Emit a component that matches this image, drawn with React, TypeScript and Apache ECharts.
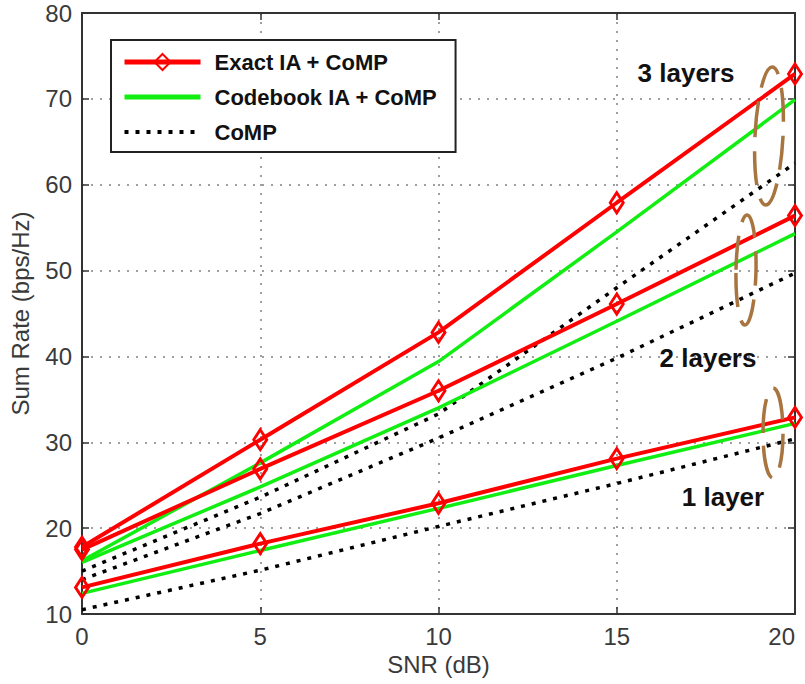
import React, { useEffect, useRef } from "react";
import * as echarts from "echarts";

// SNR (dB) categories on x
const snr = [0, 5, 10, 15, 20];
// Exact IA + CoMP
const exact3 = [17.8, 30.3, 42.8, 57.9, 72.9];
const exact2 = [17.5, 26.9, 36.0, 46.1, 56.4];
const exact1 = [13.1, 18.2, 22.9, 28.1, 32.9];
// Codebook IA + CoMP
const codebook3 = [16.2, 27.6, 39.4, 54.5, 69.9];
const codebook2 = [16.0, 24.8, 34.0, 44.1, 54.3];
const codebook1 = [12.4, 17.4, 22.3, 27.3, 32.2];
// CoMP
const comp3 = [15.0, 23.6, 33.3, 48.0, 62.5];
const comp2 = [14.0, 21.7, 30.5, 39.8, 49.7];
const comp1 = [10.5, 15.1, 20.2, 25.2, 30.4];

const legendNames = ["Exact IA + CoMP", "Codebook IA + CoMP", "CoMP"];
const annotations = ["3 layers", "2 layers", "1 layer"];

const FONT = "Liberation Sans, Arial, sans-serif";
const RED = "#ff0000";
const GREEN = "#11ee11";
const DOT = [4, 7];

export default function App() {
  const ref = useRef<HTMLDivElement>(null);
  useEffect(() => {
    if (!ref.current) return;
    const chart = echarts.init(ref.current, undefined, { renderer: "svg" });
    const pts = (ys: number[]) => snr.map((x, i) => [x, ys[i]]);
    const comp = (ys: number[]) => ({
      type: "line",
      name: legendNames[2],
      data: pts(ys),
      symbol: "none",
      lineStyle: { color: "#000", width: 3.5, type: DOT },
      itemStyle: { color: "#000" },
      z: 2,
    });
    const code = (ys: number[]) => ({
      type: "line",
      name: legendNames[1],
      data: pts(ys),
      symbol: "none",
      lineStyle: { color: GREEN, width: 3.5 },
      itemStyle: { color: GREEN },
      z: 3,
    });
    const exact = (ys: number[]) => ({
      type: "line",
      name: legendNames[0],
      data: pts(ys),
      symbol: "diamond",
      symbolSize: [13, 20],
      showSymbol: true,
      lineStyle: { color: RED, width: 4 },
      itemStyle: { color: "rgba(255,255,255,0)", borderColor: RED, borderWidth: 3 },
      z: 4,
    });
    const axisCommon = {
      axisLine: { show: true, onZero: false, lineStyle: { color: "#333", width: 2 } },
      axisTick: { show: true, inside: true, length: 7, lineStyle: { color: "#333", width: 1.5 } },
    };
    const labelStyle = { fontSize: 24, color: "#3a3a3a", fontFamily: FONT };
    const ell = (cx: number, cy: number, rx: number, ry: number, rot: number) => ({
      type: "ellipse",
      x: cx,
      y: cy,
      rotation: rot,
      shape: { cx: 0, cy: 0, rx, ry },
      style: { fill: "none", stroke: "#A8743F", lineWidth: 3.5, lineDash: [34, 14] },
      z: 10,
    });
    const txt = (s: string, x: number, y: number) => ({
      type: "text",
      x,
      y,
      style: {
        text: s,
        fill: "#111",
        font: `bold 26px ${FONT}`,
        align: "center",
        verticalAlign: "middle",
      },
      z: 10,
    });
    chart.setOption({
      animation: false,
      backgroundColor: "#fff",
      grid: { left: 82, right: 10, top: 13, bottom: 70, containLabel: false, outerBoundsMode: "none" },
      xAxis: [
        {
          type: "value",
          min: 0,
          max: 20,
          interval: 5,
          position: "bottom",
          ...axisCommon,
          axisLabel: { ...labelStyle, margin: 10, alignMaxLabel: "right" },
          splitLine: { show: true, lineStyle: { type: [2, 7], color: "#808080", width: 1.5 } },
          name: "SNR (dB)",
          nameLocation: "middle",
          nameGap: 38,
          nameTextStyle: labelStyle,
        },
        {
          type: "value",
          min: 0,
          max: 20,
          interval: 5,
          position: "top",
          ...axisCommon,
          axisLabel: { show: false },
          splitLine: { show: false },
        },
      ],
      yAxis: [
        {
          type: "value",
          min: 10,
          max: 80,
          interval: 10,
          position: "left",
          ...axisCommon,
          axisLabel: { ...labelStyle, margin: 10 },
          splitLine: { show: true, lineStyle: { type: [2, 7], color: "#808080", width: 1.5 } },
          name: "Sum Rate (bps/Hz)",
          nameLocation: "middle",
          nameGap: 50,
          nameRotate: 90,
          nameTextStyle: labelStyle,
        },
        {
          type: "value",
          min: 10,
          max: 80,
          interval: 10,
          position: "right",
          ...axisCommon,
          axisLabel: { show: false },
          splitLine: { show: false },
        },
      ],
      legend: {
        left: 111,
        top: 40,
        orient: "vertical",
        data: [
          { name: legendNames[0], lineStyle: { color: RED, width: 5 } },
          { name: legendNames[1], itemStyle: { opacity: 0 }, lineStyle: { color: GREEN, width: 5 } },
          { name: legendNames[2], itemStyle: { opacity: 0 }, lineStyle: { color: "#000", width: 4, type: DOT } },
        ],
        selectedMode: false,
        itemWidth: 76,
        itemHeight: 20,
        itemGap: 9,
        borderColor: "#222",
        borderWidth: 2,
        backgroundColor: "#fff",
        padding: [9, 18, 7, 11],
        textStyle: {
          fontFamily: FONT,
          fontWeight: "bold",
          fontSize: 22,
          color: "#111",
          lineHeight: 26,
          padding: [0, 0, 0, 9],
        },
      },
      series: [
        comp(comp3),
        comp(comp2),
        comp(comp1),
        code(codebook3),
        code(codebook2),
        code(codebook1),
        exact(exact3),
        exact(exact2),
        exact(exact1),
      ],
      graphic: [
        ell(769, 136, 14, 69, -0.05),
        ell(746, 270, 10, 55, -0.02),
        ell(773, 433, 10, 45, 0),
        txt(annotations[0], 686, 73),
        txt(annotations[1], 708, 358),
        txt(annotations[2], 723, 497),
      ],
    });
    return () => chart.dispose();
  }, []);
  return (
    <div
      ref={ref}
      style={{ position: "fixed", left: 0, top: 0, width: 805, height: 684, background: "#fff" }}
    />
  );
}
